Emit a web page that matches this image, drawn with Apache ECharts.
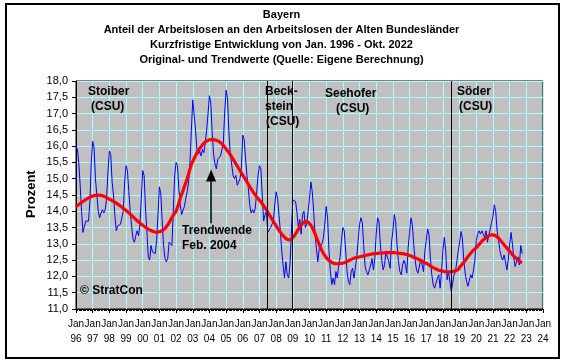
<!DOCTYPE html>
<html><head><meta charset="utf-8">
<script src="https://cdn.jsdelivr.net/npm/echarts@6/dist/echarts.min.js"></script>
<style>html,body{margin:0;padding:0;background:#fff}#c{width:563px;height:361px}</style>
</head><body><div id="c"></div>
<script>
const startYear = 1996;
const yearLabels = ['96','97','98','99','00','01','02','03','04','05','06','07','08','09','10','11','12','13','14','15','16','17','18','19','20','21','22','23','24'];
const titleLines = ['Bayern','Anteil der Arbeitslosen an den Arbeitslosen der Alten Bundesländer','Kurzfristige Entwicklung von Jan. 1996 - Okt. 2022','Original- und Trendwerte (Quelle: Eigene Berechnung)'];
const govChanges = [2007.46, 2008.96, 2018.47];
const arrowX = 2004.1, arrowFrom = 13.63, arrowTo = 15.1;
// Original monthly values (Jan 1996 - Oct 2022)
const original = [
16.0,15.9,15.5,14.8,14.0,13.35,13.4,13.7,13.75,13.7,14.3,15.5,
16.15,15.95,15.0,14.5,14.0,13.8,13.95,14.05,13.95,14.05,14.4,15.2,
15.85,15.75,14.9,14.5,13.85,13.4,13.55,13.6,13.6,13.65,14.0,14.9,
15.4,15.25,14.6,14.0,13.55,13.15,13.05,13.25,13.4,13.25,13.6,14.4,
15.25,15.1,14.1,13.4,12.6,12.5,12.95,12.75,12.8,12.7,13.1,13.9,
14.75,14.55,13.7,12.95,12.55,12.45,12.55,13.05,13.1,12.95,14.0,15.1,
15.5,15.4,14.7,14.2,13.9,13.85,14.15,14.4,14.6,14.9,15.5,16.5,
17.42,17.47,16.5,15.9,15.75,15.85,15.7,15.9,15.8,16.1,16.5,17.0,
17.55,17.3,16.4,15.75,15.45,15.3,15.6,15.65,15.7,15.75,16.1,17.05,
17.72,17.45,16.45,15.75,15.45,15.1,15.0,15.1,14.8,14.8,15.0,15.35,
16.34,16.2,15.6,15.1,14.7,14.2,13.95,14.05,13.95,14.1,14.6,15.1,
15.4,15.3,14.5,13.7,13.9,14.0,13.35,13.3,13.5,13.5,13.7,14.2,
14.6,14.4,13.9,13.4,12.8,12.35,11.95,12.45,12.05,11.95,12.4,12.4,
14.35,14.4,14.3,13.95,13.5,13.75,13.3,13.9,14.0,13.5,13.6,14.0,
14.4,14.9,14.6,14.0,13.3,12.85,12.45,12.85,12.8,13.0,13.2,13.6,
14.15,13.8,12.8,12.15,11.75,11.95,11.75,12.15,11.95,12.35,12.6,13.1,
13.5,13.4,12.8,12.15,11.85,11.75,12.15,12.25,11.95,11.95,12.6,13.1,
13.6,13.8,13.65,12.95,12.3,12.15,12.05,12.1,12.35,12.55,12.2,12.55,
13.3,13.8,13.68,12.97,12.5,12.2,12.36,12.76,12.6,12.46,12.25,13.05,
13.4,13.9,13.68,12.97,12.46,12.15,12.05,12.35,12.5,12.36,12.1,12.9,
13.35,13.8,13.6,12.97,12.5,12.2,12.1,12.05,12.5,12.36,12.15,12.76,
13.1,13.46,13.28,12.56,12.05,11.74,11.64,11.8,11.95,12.05,11.64,12.15,
12.8,13.2,12.8,11.9,12.15,11.85,11.55,11.6,12.05,12.15,12.15,12.76,
13.05,13.38,13.17,12.5,12.1,11.85,11.7,11.74,12.05,11.95,12.2,12.5,
13.1,13.3,13.4,13.3,13.4,13.3,13.2,13.4,13.05,13.25,13.45,13.65,
13.85,14.2,14.0,13.4,13.1,12.8,12.6,12.5,12.66,12.45,12.2,12.5,
13.0,13.35,13.0,12.55,12.3,12.25,12.6,12.35,12.95,12.7
];
// Trend monthly values
const trend = [
14.15,14.18,14.21,14.24,14.27,14.30,14.33,14.36,14.39,14.41,14.43,14.45,
14.47,14.48,14.49,14.50,14.50,14.50,14.49,14.48,14.46,14.44,14.42,14.40,
14.37,14.35,14.33,14.31,14.28,14.25,14.22,14.19,14.16,14.12,14.09,14.06,
14.03,13.99,13.95,13.91,13.87,13.83,13.79,13.75,13.71,13.67,13.64,13.60,
13.57,13.54,13.51,13.48,13.45,13.43,13.41,13.39,13.37,13.36,13.35,13.35,
13.37,13.38,13.40,13.43,13.47,13.52,13.58,13.65,13.73,13.81,13.88,13.94,
14.00,14.12,14.25,14.40,14.52,14.64,14.76,14.88,15.00,15.15,15.30,15.43,
15.53,15.62,15.71,15.79,15.86,15.93,15.99,16.04,16.09,16.13,16.16,16.18,
16.19,16.20,16.20,16.20,16.19,16.18,16.16,16.14,16.11,16.07,16.02,15.97,
15.92,15.86,15.80,15.74,15.67,15.60,15.53,15.46,15.39,15.32,15.25,15.18,
15.11,15.04,14.97,14.90,14.83,14.76,14.69,14.62,14.56,14.50,14.44,14.39,
14.34,14.29,14.23,14.17,14.11,14.04,13.97,13.90,13.83,13.76,13.69,13.62,
13.55,13.48,13.42,13.36,13.30,13.25,13.20,13.16,13.13,13.12,13.12,13.14,
13.18,13.24,13.31,13.38,13.45,13.52,13.58,13.63,13.67,13.69,13.69,13.67,
13.63,13.57,13.50,13.41,13.31,13.20,13.09,12.98,12.88,12.79,12.71,12.64,
12.58,12.53,12.49,12.46,12.43,12.41,12.40,12.39,12.39,12.39,12.39,12.40,
12.41,12.42,12.44,12.46,12.48,12.50,12.52,12.54,12.56,12.57,12.58,12.59,
12.60,12.61,12.62,12.63,12.64,12.65,12.66,12.67,12.68,12.69,12.69,12.70,
12.70,12.71,12.71,12.72,12.72,12.72,12.73,12.73,12.73,12.73,12.73,12.73,
12.73,12.73,12.73,12.72,12.72,12.71,12.71,12.70,12.69,12.68,12.67,12.66,
12.65,12.63,12.61,12.59,12.57,12.55,12.53,12.51,12.49,12.47,12.45,12.42,
12.40,12.38,12.35,12.32,12.30,12.27,12.25,12.23,12.21,12.19,12.18,12.17,
12.16,12.15,12.15,12.14,12.14,12.14,12.14,12.15,12.16,12.17,12.19,12.21,
12.28,12.33,12.38,12.44,12.49,12.55,12.61,12.66,12.71,12.76,12.81,12.85,
12.88,12.93,12.98,13.03,13.08,13.12,13.16,13.20,13.23,13.25,13.27,13.28,
13.28,13.27,13.25,13.22,13.18,13.13,13.07,13.02,12.97,12.92,12.87,12.82,
12.77,12.72,12.67,12.62,12.58,12.54,12.50,12.47,12.44,12.42
];
const toPairs = arr => arr.map((v, i) => [startYear + i / 12, v]);

const chart = echarts.init(document.getElementById('c'), null, {renderer: 'canvas'});
const FONT = '"Liberation Sans", Arial, sans-serif';
const gridCol = '#A8FFFF';
const texts = [];
titleLines.forEach((t, i) => texts.push({type:'text', left:'center', top: 9 + i*15, style:{text:t, font:'bold 11px ' + FONT, fill:'#000'}}));
const ann = [
  ['Stoiber', 88, 86], ['(CSU)', 91, 101],
  ['Beck-', 265, 86], ['stein', 265, 101], ['(CSU)', 266, 116],
  ['Seehofer', 325, 88], ['(CSU)', 336, 103],
  ['Söder', 457, 86], ['(CSU)', 459, 101],
  ['Trendwende', 182, 225], ['Feb. 2004', 182, 240],
  ['© StratCon', 80, 285]
];
ann.forEach(a => texts.push({type:'text', x:a[1], y:a[2], z:100, style:{text:a[0], font:'bold 12px ' + FONT, fill:'#000'}}));
texts.push({type:'text', x:25, y:218, rotation:Math.PI/2, style:{text:'Prozent', font:'bold 13px ' + FONT, fill:'#000'}});
texts.push({type:'rect', shape:{x:6, y:4, width:553, height:354}, style:{fill:'none', stroke:'#000', lineWidth:2}});

chart.setOption({
  animation:false,
  backgroundColor:'#fff',
  graphic: texts,
  grid:{left:76, top:81, width:467, height:228, show:true, backgroundColor:'#C0C0C0', borderColor:'#000', borderWidth:1},
  xAxis:{type:'value', min:1996, max:2024, interval:1,
    axisLine:{lineStyle:{color:'#000', width:1}},
    axisTick:{show:true, length:4, lineStyle:{color:'#000'}},
    minorTick:{show:true, splitNumber:12, length:2, lineStyle:{color:'#000'}},
    splitLine:{show:true, lineStyle:{color:gridCol, width:1}},
    axisLabel:{margin:8, lineHeight:15, fontSize:10, fontFamily:FONT, color:'#000', showMinLabel:true, showMaxLabel:true, hideOverlap:false,
      formatter:v => 'Jan\n' + yearLabels[Math.round(v - startYear)]}
  },
  yAxis:{type:'value', min:11, max:18, interval:0.5,
    axisLine:{show:true, lineStyle:{color:'#000'}},
    axisTick:{show:true, length:4, lineStyle:{color:'#000'}},
    splitLine:{show:true, lineStyle:{color:gridCol, width:1}},
    axisLabel:{margin:8, fontSize:11, fontFamily:FONT, color:'#000', showMinLabel:true, showMaxLabel:true, formatter:v => v.toFixed(1).replace('.', ',')}
  },
  series:[
    {type:'line', data:toPairs(original), showSymbol:false, lineStyle:{color:'#0000FF', width:1}, z:2,
     markLine:{silent:true, symbol:'none', label:{show:false}, lineStyle:{color:'#000', width:1, type:'solid'},
       data: govChanges.map(x => ({xAxis:x}))}},
    {type:'line', data:toPairs(trend), showSymbol:false, lineStyle:{color:'#FF0000', width:3.2}, z:3,
     markLine:{silent:true, label:{show:false}, symbol:['none','triangle'], symbolSize:[10,12],
       lineStyle:{color:'#000', width:1.5, type:'solid'},
       data:[[{coord:[arrowX, arrowFrom]}, {coord:[arrowX, arrowTo]}]]}}
  ]
});
</script></body></html>
